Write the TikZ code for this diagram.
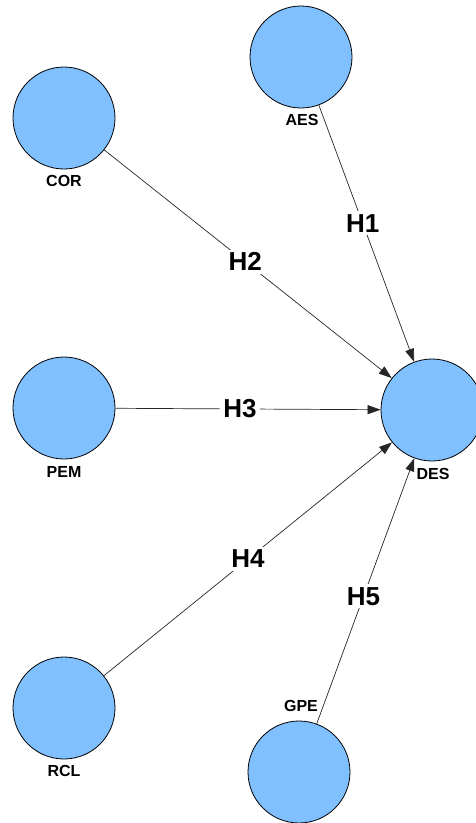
\documentclass[tikz,border=0pt]{standalone}
\usepackage{fontspec}
\setmainfont{Liberation Sans}
\usetikzlibrary{arrows.meta}
\definecolor{nodeblue}{RGB}{128,192,255}
\begin{document}
\begin{tikzpicture}[x=1pt,y=-1pt,
  construct/.style={circle,draw=black,line width=0.8pt,fill=nodeblue,minimum size=102pt,inner sep=0pt},
  cname/.style={font=\fontsize{16}{18}\selectfont\bfseries,inner sep=0pt},
  hyp/.style={font=\fontsize{26}{30}\selectfont\bfseries,fill=white,inner sep=3pt},
  path/.style={draw=black!85,line width=0.7pt,-{Triangle[length=13pt,width=9pt]}}]
\useasboundingbox (0,0) rectangle (475,823);
\node[construct] (AES) at (301,57) {};
\node[construct] (COR) at (64,118) {};
\node[construct] (PEM) at (64,408) {};
\node[construct] (DES) at (432,410) {};
\node[construct] (RCL) at (64,708) {};
\node[construct] (GPE) at (299,772) {};
\node[cname] (lAES) at (302,120) {AES};
\node[cname] (lCOR) at (64,181) {COR};
\node[cname] (lPEM) at (64,472) {PEM};
\node[cname] (lDES) at (433,474) {DES};
\node[cname] (lRCL) at (64,771) {RCL};
\node[cname] (lGPE) at (301,706) {GPE};
\draw[path] (AES) -- node[hyp,pos=0.46] (h1) {H1} (DES);
\draw[path] (COR) -- node[hyp,pos=0.49] (h2) {H2} (DES);
\draw[path] (PEM) -- node[hyp,pos=0.47] (h3) {H3} (DES);
\draw[path] (RCL) -- node[hyp,pos=0.5] (h4) {H4} (DES);
\draw[path] (GPE) -- node[hyp,pos=0.48] (h5) {H5} (DES);
\end{tikzpicture}
\end{document}
